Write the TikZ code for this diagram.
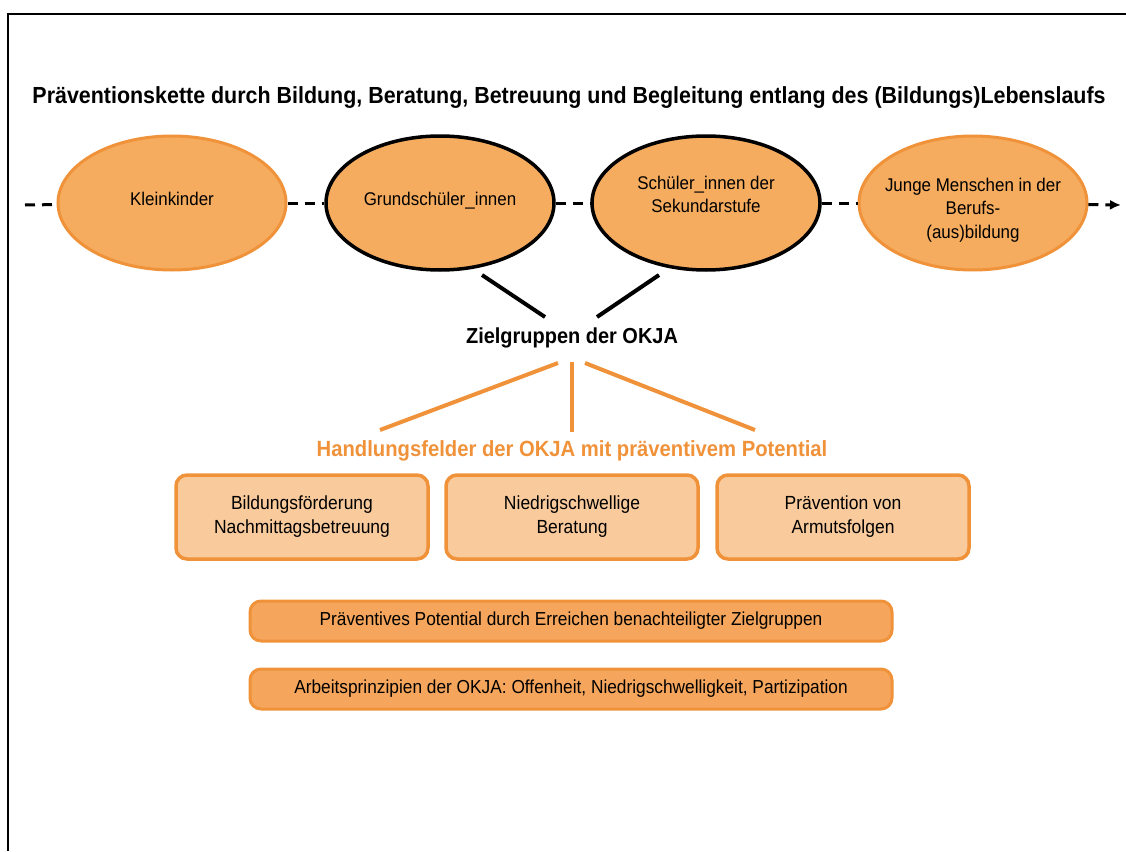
\documentclass[tikz,border=0pt]{standalone}
\usepackage{fontspec}
\setmainfont{Liberation Sans}[FakeStretch=0.92]
\usetikzlibrary{arrows.meta,shapes.geometric,positioning}

\definecolor{okjaorange}{HTML}{F0923A}
\definecolor{ellfill}{HTML}{F5AC5F}
\definecolor{boxfill}{HTML}{F9CA9B}
\definecolor{barfill}{HTML}{F5A65C}

\begin{document}
\begin{tikzpicture}[
        x=1pt, y=-1pt,
        group/.style={ellipse, fill=ellfill, draw=okjaorange, line width=3pt, inner sep=-8pt,
            minimum width=228pt, minimum height=134pt, align=center, font=\fontsize{18.4}{23.5}\selectfont},
        target/.style={group, draw=black, line width=3.5pt},
        field/.style={draw=okjaorange, fill=boxfill, line width=3.5pt, rounded corners=11pt,
            minimum width=252pt, minimum height=84pt, align=center, font=\fontsize{19}{24}\selectfont},
        principle/.style={draw=okjaorange, fill=barfill, line width=3pt, rounded corners=11pt,
            minimum width=642pt, minimum height=40pt, font=\fontsize{18.8}{22}\selectfont},
        chain/.style={line width=3pt, dash pattern=on 10pt off 7pt},
        link/.style={line width=4pt},
        branch/.style={line width=4pt, okjaorange}
    ]
        \useasboundingbox (0,0) rectangle (1126,851);
        % frame
        \draw[line width=2pt] (8,851) -- (8,14) -- (1126,14);

        \node[font=\bfseries\fontsize{23.3}{26}\selectfont] (title) at (569,98)
            {Präventionskette durch Bildung, Beratung, Betreuung und Begleitung entlang des (Bildungs)Lebenslaufs};

        % chain start/end
        \coordinate (start) at (25,205);
        \coordinate (end) at (1121,205);

        \node[group, text depth=9pt] (kk) at (172,203) {Kleinkinder};
        \node[target, text depth=9pt] (gs) at (440,203) {Grundschüler\_innen};
        \node[target] (sek) at (706,203) {Schüler\_innen der\\Sekundarstufe\rule[-17pt]{0pt}{17pt}};
        \node[group] (jm) at (973,203) {\rule{0pt}{27pt}Junge Menschen in der\\Berufs-\\(aus)bildung};

        \draw[chain] (start) -- (kk);
        \draw[chain] (kk) -- (gs);
        \draw[chain] (gs) -- (sek);
        \draw[chain] (sek) -- (jm);
        \draw[chain, -{Latex[length=11pt,width=10pt]}] (jm) -- (end);

        \node[font=\bfseries\fontsize{21.7}{26}\selectfont] (zg) at (572,338) {Zielgruppen der OKJA};
        % ends of the connectors
        \coordinate (gsend) at (482,275);
        \coordinate (sekend) at (659,275);
        \coordinate (zgl) at (545,317);
        \coordinate (zgr) at (597,317);
        \coordinate (zgbl) at (558,363);
        \coordinate (zgbm) at (572,362);
        \coordinate (zgbr) at (585,363);
        \coordinate (hfl) at (380,430);
        \coordinate (hfm) at (572,432);
        \coordinate (hfr) at (755,430);
        \draw[link] (gsend) -- (zgl);
        \draw[link] (sekend) -- (zgr);

        \node[font=\bfseries\fontsize{22}{25}\selectfont, text=okjaorange] (hf) at (572,451)
            {Handlungsfelder der OKJA mit präventivem Potential};
        \draw[branch] (zgbl) -- (hfl);
        \draw[branch] (zgbm) -- (hfm);
        \draw[branch] (zgbr) -- (hfr);

        \node[field] (bf) at (302,517) {Bildungsförderung\\Nachmittagsbetreuung};
        \node[field] (nb) at (572,517) {Niedrigschwellige\\Beratung};
        \node[field] (pa) at (843,517) {Prävention von\\Armutsfolgen};

        \node[principle] (pp) at (571,621) {Präventives Potential durch Erreichen benachteiligter Zielgruppen};
        \node[principle] (ap) at (571,689) {Arbeitsprinzipien der OKJA: Offenheit, Niedrigschwelligkeit, Partizipation};
    \end{tikzpicture}
\end{document}
